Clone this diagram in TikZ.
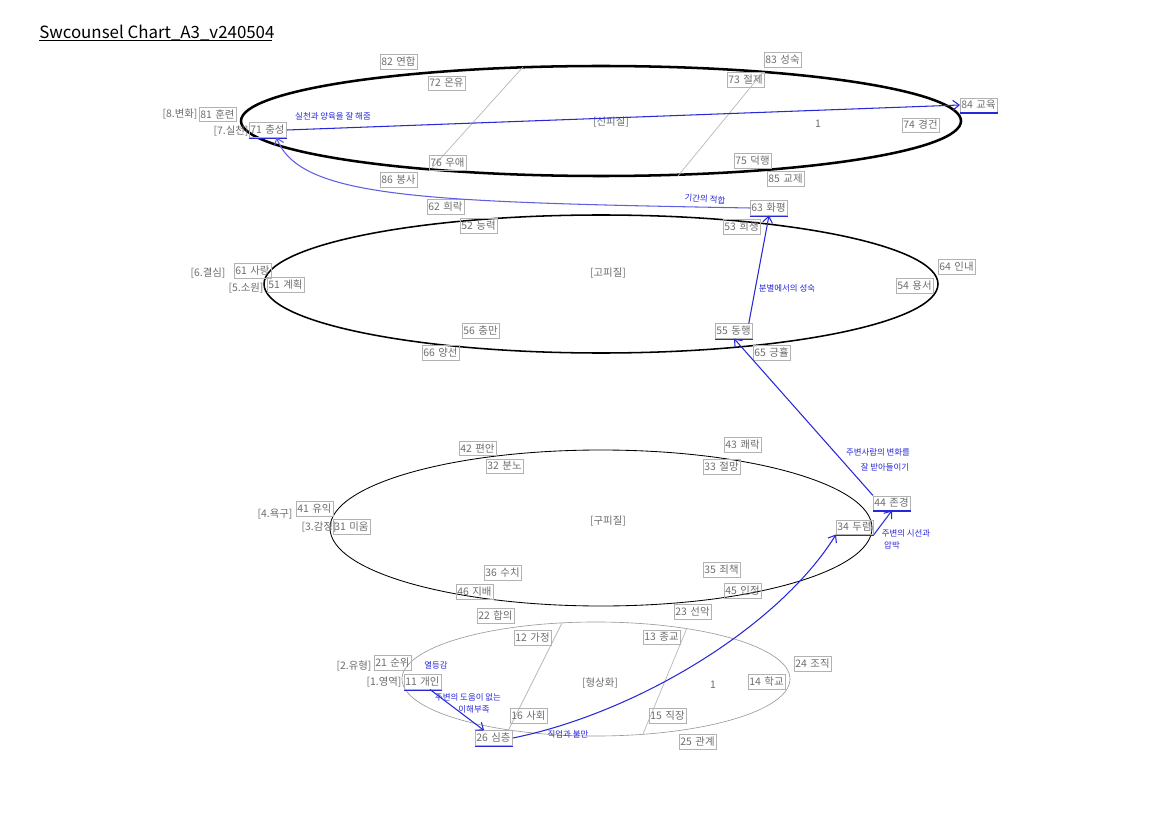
\documentclass[tikz,border=0pt]{standalone}
\usepackage{fontspec}
\setmainfont{Noto Sans CJK KR}
\usetikzlibrary{arrows.meta, positioning}
\definecolor{pen}{RGB}{40,40,215}
\definecolor{lbl}{RGB}{110,110,110}

\tikzset{
  box/.style={draw=gray!60, text=lbl, font=\fontsize{7.4}{8}\selectfont, text width=25pt, align=left, inner xsep=0.8pt, inner ysep=1.8pt, anchor=west},
  tag/.style={text=lbl, font=\fontsize{7.4}{8}\selectfont, inner sep=1pt},
  hand/.style={text=pen, font=\fontsize{6}{7}\selectfont, inner sep=0pt},
  link/.style={pen, line width=0.75pt, -{Straight Barb[length=4.5pt,width=7pt]}},
  uline/.style={pen, line width=1pt},
  split/.style={gray!55, line width=0.5pt}
}

\begin{document}
\begin{tikzpicture}[x=0.025cm, y=-0.025cm]
\useasboundingbox (0,0) rectangle (1152,814);
\fill[white] (0,0) rectangle (1152,814);

% title
\node[anchor=west, font=\fontsize{12}{14}\selectfont, inner sep=0pt] (title) at (39,33) {Swcounsel Chart\_A3\_v240504};
\draw[line width=0.6pt] (title.south west) ++(0,-1) -- ++(233,0);

% rings
\draw[line width=1.8pt] (601,121) ellipse [x radius=360, y radius=55];
\draw[line width=1.1pt] (601,284) ellipse [x radius=337, y radius=69];
\draw[line width=0.6pt] (601,528) ellipse [x radius=271, y radius=78];
\draw[gray!80, line width=0.45pt] (596,679) ellipse [x radius=194, y radius=57];

\draw[split] (523,67) -- (432,168);
\draw[split] (763,72) -- (678,176);
\draw[split] (562,623) -- (508,731);
\draw[split] (687,628) -- (643,734);

% 신피질
\node[tag] (r8) at (180,114) {[8.변화]};
\node[tag] (r7) at (231,131) {[7.실천]};
\node[tag] (sin) at (611,122) {[신피질]};
\node[tag] (one1) at (818,124) {1};
\node[box] (n82) at (380,62) {82 연합};
\node[box] (n72) at (428,83) {72 온유};
\node[box] (n83) at (764,60) {83 성숙};
\node[box] (n73) at (727,80) {73 절제};
\node[box] (n81) at (199,114) {81 훈련};
\node[box] (n71) at (249,130) {71 충성};
\node[box] (n74) at (902,125) {74 경건};
\node[box] (n84) at (960,105) {84 교육};
\node[box] (n76) at (429,163) {76 우애};
\node[box] (n86) at (380,180) {86 봉사};
\node[box] (n75) at (734,161) {75 덕행};
\node[box] (n85) at (767,179) {85 교제};

% 고피질
\node[tag] (r6) at (208,273) {[6.결심]};
\node[tag] (r5) at (246,288) {[5.소원]};
\node[tag] (go) at (608,273) {[고피질]};
\node[box] (n62) at (427,207) {62 희락};
\node[box] (n52) at (460,226) {52 능력};
\node[box] (n63) at (750,208) {63 화평};
\node[box] (n53) at (723,227) {53 희생};
\node[box] (n61) at (234,271) {61 사랑};
\node[box] (n51) at (267,285) {51 계획};
\node[box] (n64) at (938,267) {64 인내};
\node[box] (n54) at (896,286) {54 용서};
\node[box] (n56) at (462,331) {56 충만};
\node[box] (n66) at (422,353) {66 양선};
\node[box] (n55) at (715,331) {55 동행};
\node[box] (n65) at (753,353) {65 긍휼};

% 구피질
\node[tag] (r4) at (275,514) {[4.욕구]};
\node[tag] (r3) at (319,527) {[3.감정]};
\node[tag] (gu) at (608,521) {[구피질]};
\node[box] (n42) at (459,448) {42 편안};
\node[box] (n32) at (486,466) {32 분노};
\node[box] (n43) at (724,445) {43 쾌락};
\node[box] (n33) at (703,467) {33 절망};
\node[box] (n41) at (296,509) {41 유익};
\node[box] (n31) at (333,527) {31 미움};
\node[box] (n44) at (873,503) {44 존경};
\node[box] (n34) at (836,527) {34 두렴};
\node[box] (n36) at (484,573) {36 수치};
\node[box] (n46) at (456,592) {46 지배};
\node[box] (n35) at (703,570) {35 죄책};
\node[box] (n45) at (724,591) {45 인정};

% 형상화
\node[tag] (r2) at (354,666) {[2.유형]};
\node[tag] (r1) at (384,682) {[1.영역]};
\node[tag] (hy) at (600,683) {[형상화]};
\node[tag] (one2) at (713,685) {1};
\node[box] (n22) at (477,616) {22 합의};
\node[box] (n12) at (514,638) {12 가정};
\node[box] (n23) at (674,612) {23 선악};
\node[box] (n13) at (643,637) {13 종교};
\node[box] (n21) at (374,663) {21 순위};
\node[box] (n11) at (404,682) {11 개인};
\node[box] (n24) at (794,664) {24 조직};
\node[box] (n14) at (748,682) {14 학교};
\node[box] (n16) at (510,716) {16 사회};
\node[box] (n15) at (649,716) {15 직장};
\node[box] (n26) at (475,738) {26 심층};
\node[box] (n25) at (679,742) {25 관계};

% pen marks
\foreach \n in {n71,n84,n63,n55,n44,n34,n11,n26}
  \draw[uline] ([yshift=-0.5pt]\n.south west) -- ([yshift=-0.5pt]\n.south east);

\draw[link] (n71.east) -- (n84.west);
\draw[link, pen!75] (n63.west) .. controls (420,202) and (300,198) .. ([xshift=6pt]n71.south);
\draw[link] ([xshift=-3pt]n55.north east) -- (n63.south);
\draw[link] (n44.north west) -- (n55.south);
\draw[link] (n34.south east) -- (n44.south);
\draw[link] (n26.east) .. controls (640,712) and (780,625) .. (n34.south west);
\draw[link] ([xshift=5pt]n11.south) -- ([xshift=-7pt]n26.north);

\node[hand] (t1) at (333,116) {실천과 양육을 잘 해줌};
\node[hand, rotate=-4] (t2) at (705,199) {기간의 적합};
\node[hand] (t3) at (787,288) {분별에서의 성숙};
\node[hand] (t4) at (878,452) {주변사람의 변화를};
\node[hand] (t5) at (885,467) {잘 받아들이기};
\node[hand] (t6) at (906,533) {주변의 시선과};
\node[hand] (t7) at (892,545) {압박};
\node[hand] (t8) at (436,665) {열등감};
\node[hand] (t9) at (468,697) {주변의 도움이 없는};
\node[hand] (t10) at (474,709) {이해부족};
\node[hand] (t11) at (568,734) {직업과 불만};

\end{tikzpicture}
\end{document}
